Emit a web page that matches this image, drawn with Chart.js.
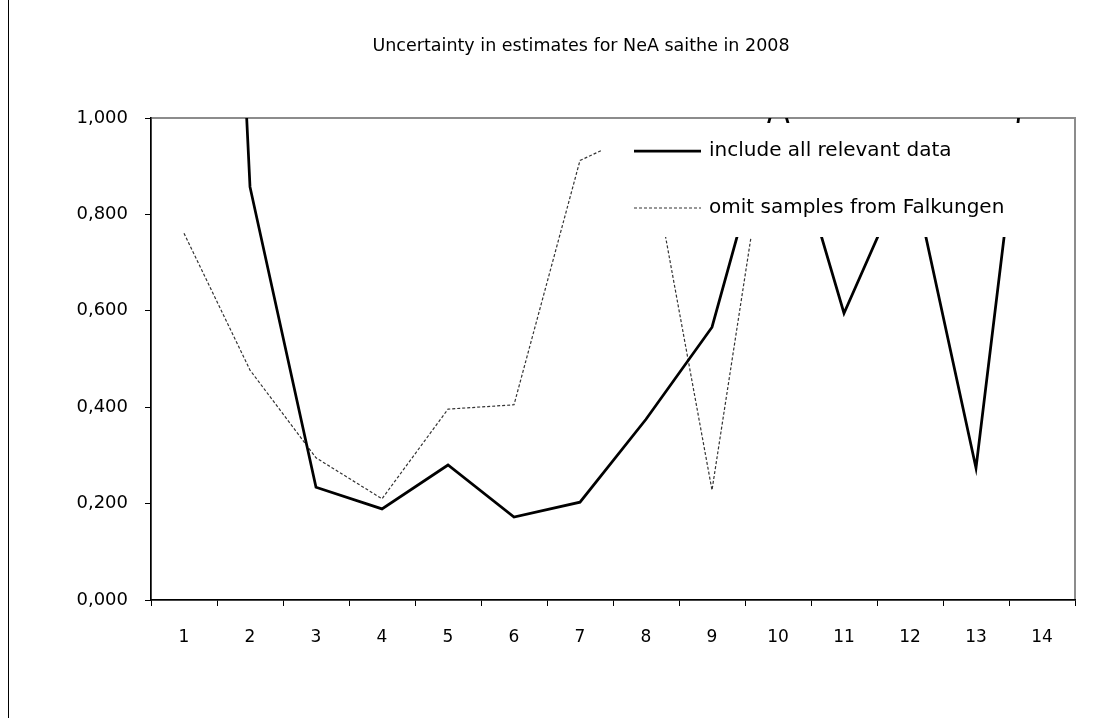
<!DOCTYPE html>
<html>
<head>
<meta charset="utf-8">
<script src="https://cdn.jsdelivr.net/npm/chart.js@4/dist/chart.umd.min.js"></script>
<style>
  html, body { margin: 0; padding: 0; background: #fff; }
  #wrap { position: relative; width: 1117px; height: 718px; }
</style>
</head>
<body>
<div id="wrap"><canvas id="uncChart" width="1117" height="718"></canvas></div>
<script>
const chartTitle = "Uncertainty in estimates for NeA saithe in 2008";
const categories = ["1", "2", "3", "4", "5", "6", "7", "8", "9", "10", "11", "12", "13", "14"];
const allDataLabel = "include all relevant data";
const omitLabel = "omit samples from Falkungen";

// values above 1 run off the top of the plot, same as the original
const allData = [3.7, 0.857, 0.234, 0.189, 0.280, 0.172, 0.203, 0.375, 0.566, 1.06, 0.595, 0.905, 0.274, 1.40];
const omitFalkungen = [0.761, 0.477, 0.295, 0.210, 0.396, 0.405, 0.912, 0.975, 0.228, 1.116, null, null, null, null];

const yTicks = [0, 0.2, 0.4, 0.6, 0.8, 1.0];
const fmtTick = (v) => Number(v).toFixed(3).replace(".", ",");

// the source picture is stretched wide, DejaVu is a wider face so it sits closer
const FONT = "'DejaVu Sans', 'Liberation Sans', Arial, sans-serif";

// frame: left border of the chart object, gray box round plot, title
const framePlugin = {
  id: "frame",
  beforeDraw(chart) {
    const { ctx, chartArea: a } = chart;
    ctx.save();
    ctx.fillStyle = "#fff";
    ctx.fillRect(0, 0, chart.width, chart.height);
    ctx.strokeStyle = "#000";
    ctx.lineWidth = 1;
    ctx.beginPath();
    ctx.moveTo(8.5, 0);
    ctx.lineTo(8.5, chart.height);
    ctx.stroke();

    ctx.strokeStyle = "#8c8c8c";
    ctx.lineWidth = 2;
    ctx.strokeRect(a.left, a.top, a.right - a.left, a.bottom - a.top);

    ctx.fillStyle = "#000";
    ctx.font = "17.5px " + FONT;
    ctx.textAlign = "center";
    ctx.textBaseline = "middle";
    ctx.fillText(chartTitle, 581, 46);
    ctx.restore();
  }
};

// excel style legend sitting inside the plot with a white fill over the lines
const boxLegend = {
  id: "boxLegend",
  afterDatasetsDraw(chart) {
    const { ctx } = chart;
    const box = { x: 602, y: 123, w: 420, h: 114 };
    ctx.save();
    ctx.fillStyle = "#fff";
    ctx.fillRect(box.x, box.y, box.w, box.h);
    ctx.font = "20px " + FONT;
    ctx.textBaseline = "middle";
    ctx.textAlign = "left";
    const rows = [151, 208];
    chart.data.datasets.forEach((ds, i) => {
      const y = rows[i];
      ctx.strokeStyle = ds.borderColor;
      ctx.lineWidth = ds.borderWidth;
      ctx.setLineDash(ds.borderDash || []);
      ctx.beginPath();
      ctx.moveTo(634, y);
      ctx.lineTo(701, y);
      ctx.stroke();
      ctx.setLineDash([]);
      ctx.fillStyle = "#000";
      ctx.fillText(ds.label, 709, y);
    });
    ctx.restore();
  }
};

const ctx = document.getElementById("uncChart");
new Chart(ctx, {
  type: "line",
  data: {
    labels: categories,
    datasets: [
      {
        label: allDataLabel,
        data: allData,
        borderColor: "#000",
        borderWidth: 2.75,
        pointRadius: 0,
        tension: 0,
        clip: 0
      },
      {
        label: omitLabel,
        data: omitFalkungen,
        borderColor: "#333",
        borderWidth: 1.2,
        borderDash: [3, 2],
        pointRadius: 0,
        tension: 0,
        clip: 0
      }
    ]
  },
  options: {
    responsive: false,
    animation: false,
    events: [],
    layout: { padding: { top: 118, right: 42, bottom: 58, left: 0 } },
    scales: {
      x: {
        offset: true,
        grid: {
          offset: true,
          drawOnChartArea: false,
          tickLength: 6,
          color: "#000"
        },
        border: { color: "#000", width: 1.5 },
        ticks: {
          color: "#000",
          padding: 21,
          maxRotation: 0,
          font: { family: FONT, size: 17 }
        },
        afterFit: (s) => { s.height = 60; }
      },
      y: {
        min: 0,
        max: 1,
        afterBuildTicks: (s) => { s.ticks = yTicks.map(v => ({ value: v })); },
        grid: {
          drawOnChartArea: false,
          tickLength: 6,
          color: "#000"
        },
        border: { color: "#000", width: 1.5 },
        ticks: {
          color: "#000",
          padding: 17,
          font: { family: FONT, size: 18 },
          callback: (val) => fmtTick(val)
        },
        afterFit: (s) => { s.width = 151; }
      }
    },
    plugins: {
      legend: { display: false },
      title: { display: false },
      tooltip: { enabled: false }
    }
  },
  plugins: [framePlugin, boxLegend]
});
</script>
</body>
</html>
